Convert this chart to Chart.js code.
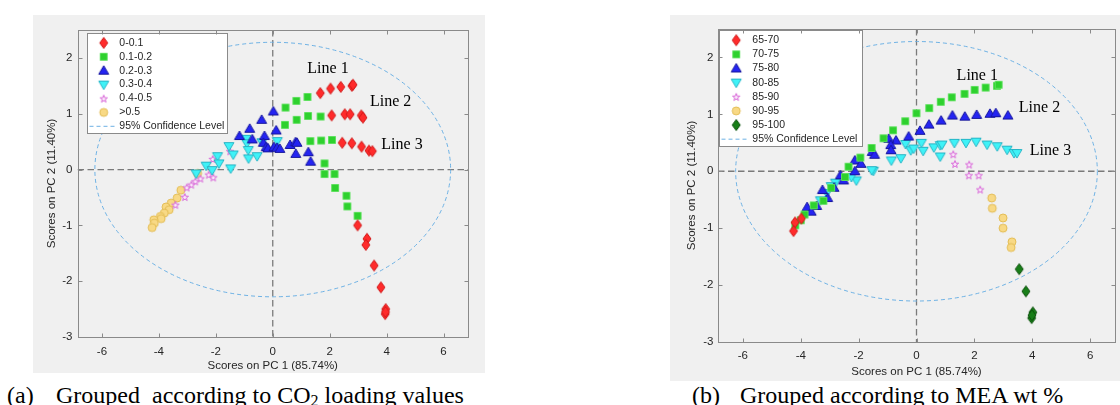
<!DOCTYPE html>
<html>
<head>
<meta charset="utf-8">
<script src="https://cdn.jsdelivr.net/npm/chart.js@4.4.1/dist/chart.umd.min.js"></script>
<style>
  body { margin: 0; width: 1120px; height: 405px; background: #fff; position: relative; overflow: hidden; }
  .panel { position: absolute; background: #f0f0f0; }
  #panelA { left: 33px; top: 15px; width: 452px; height: 358px; }
  #panelB { left: 670px; top: 15px; width: 450px; height: 366px; }
  .cap { position: absolute; top: 383px; font: 24px/24px "Liberation Serif", "Times New Roman", serif; color: #000; white-space: pre; }
  .cap sub { font-size: 16px; vertical-align: -3px; line-height: 0; }
</style>
</head>
<body>
<div class="panel" id="panelA"><canvas id="chartA"></canvas></div>
<div class="panel" id="panelB"><canvas id="chartB"></canvas></div>
<div class="cap" style="left:7px">(a)</div>
<div class="cap" style="left:56px">Grouped  according to CO<sub>2</sub> loading values</div>
<div class="cap" style="left:692px">(b)</div>
<div class="cap" style="left:740px">Grouped according to MEA wt %</div>
<script>
// Axes shared by both PCA score plots
const X_TICKS = [-6, -4, -2, 0, 2, 4, 6]
const Y_TICKS = [-3, -2, -1, 0, 1, 2]
const X_MIN = -6.86, X_MAX = 6.86, Y_MIN = -3, Y_MAX = 2.5
const X_TITLE = "Scores on PC 1 (85.74%)"
const Y_TITLE = "Scores on PC 2 (11.40%)"
const CONF_LABEL = "95% Confidence Level"
const CONF_RX = 6.25, CONF_RY = 2.28
const LINE_NAMES = ["Line 1", "Line 2", "Line 3"]

// (a) grouped by CO2 loading
const loadingLabels = ["0-0.1", "0.1-0.2", "0.2-0.3", "0.3-0.4", "0.4-0.5", ">0.5"]
const load01 = [[1.67, 1.37], [2.03, 1.45], [2.39, 1.48], [2.78, 1.50], [2.82, 1.52],
  [2.07, 0.97], [2.53, 0.99], [2.72, 0.99], [3.11, 0.97], [3.17, 0.93],
  [2.44, 0.48], [2.78, 0.47], [3.12, 0.41], [3.38, 0.34], [3.50, 0.33],
  [2.98, -1.00], [3.31, -1.24], [3.27, -1.35], [3.56, -1.72], [3.80, -2.11], [3.97, -2.50], [3.95, -2.59], [3.96, -2.55]]
const load12 = [[0.45, 1.11], [0.83, 1.23], [1.22, 1.30],
  [0.43, 0.80], [0.84, 0.89], [1.24, 0.96], [1.68, 0.95],
  [1.32, 0.51], [1.70, 0.52], [2.08, 0.53],
  [1.82, 0.11], [1.82, -0.08], [2.17, -0.08], [2.19, -0.33], [2.59, -0.47], [2.62, -0.66], [2.98, -0.83]]
const load23 = [[0.02, 1.04], [-0.39, 0.89], [-0.81, 0.73], [-1.17, 0.60], [-0.29, 0.60], [-0.72, 0.54], [0.12, 0.70],
  [-0.33, 0.48], [-0.23, 0.40], [-0.17, 0.38], [0.04, 0.40], [0.15, 0.39], [0.25, 0.37], [0.61, 0.44],
  [0.80, 0.49], [0.85, 0.48], [0.81, 0.28], [1.25, 0.31], [1.33, 0.14]]
const load34 = [[-0.94, 0.55], [-0.91, 0.47], [-1.54, 0.42], [-0.38, 0.49], [0.16, 0.51], [-0.86, 0.35], [-1.39, 0.27],
  [-1.94, 0.24], [-1.89, 0.11], [-0.85, 0.20], [-0.55, 0.24], [-1.48, 0.02], [-2.34, 0.07], [-2.13, -0.01], [-2.69, -0.07]]
const load45 = [[-1.50, 0.33], [-2.11, 0.19], [-2.25, -0.09], [-2.09, -0.14], [-2.54, -0.16], [-2.72, -0.21],
  [-2.86, -0.27], [-3.02, -0.32], [-3.09, -0.49], [-3.42, -0.63]]
const load5up = [[-2.64, -0.07], [-3.23, -0.37], [-3.36, -0.51], [-3.57, -0.60], [-3.75, -0.67], [-3.64, -0.72],
  [-3.81, -0.78], [-3.95, -0.84], [-3.92, -0.88], [-4.18, -0.90], [-4.16, -0.96], [-4.24, -1.04]]
const loadingNotes = [[1.94, 1.81], [4.14, 1.21], [4.54, 0.44]]

// (b) grouped by MEA wt %
const meaLabels = ["65-70", "70-75", "75-80", "80-85", "85-90", "90-95", "95-100"]
const mea65 = [[-4.20, -0.90], [-3.98, -0.83], [-4.25, -1.05]]
const mea70 = [[0.00, 1.02], [0.44, 1.11], [0.84, 1.22], [1.22, 1.30], [1.66, 1.36], [2.01, 1.43], [2.39, 1.47], [2.78, 1.50], [2.84, 1.52],
  [-0.39, 0.88], [-0.81, 0.72], [-1.14, 0.58], [-1.55, 0.41], [-1.94, 0.24], [-2.35, 0.08], [-2.47, -0.10],
  [-2.95, -0.29], [-3.22, -0.52], [-3.55, -0.60], [-3.87, -0.76], [-4.00, -0.86], [-4.19, -0.95]]
const mea75 = [[0.12, 0.71], [0.43, 0.82], [0.85, 0.89], [1.24, 0.98], [1.67, 0.96], [2.08, 0.99], [2.54, 1.01], [2.74, 1.02], [3.16, 0.98],
  [-0.27, 0.61], [-0.71, 0.54], [-0.96, 0.57], [-0.89, 0.46], [-0.88, 0.37], [-1.53, 0.34], [-1.45, 0.29],
  [-2.13, 0.19], [-1.92, 0.13], [-2.13, 0.00], [-2.63, -0.07], [-2.52, -0.16], [-2.85, -0.29], [-3.25, -0.33],
  [-3.07, -0.47], [-3.45, -0.61], [-3.78, -0.63], [-3.64, -0.71]]
const mea80 = [[-0.38, 0.48], [0.17, 0.50], [0.60, 0.42], [0.82, 0.46], [0.88, 0.47], [1.31, 0.50], [1.71, 0.50], [2.06, 0.52],
  [2.44, 0.47], [2.79, 0.44], [3.13, 0.38], [3.37, 0.32], [3.47, 0.32],
  [-0.20, 0.37], [-0.10, 0.40], [0.23, 0.36], [0.82, 0.26], [-0.54, 0.23], [-0.87, 0.19], [-1.49, 0.01], [-1.55, 0.02],
  [-2.08, -0.16], [-2.25, -0.10], [-2.80, -0.20], [-2.95, -0.26], [-3.10, -0.38], [-3.32, -0.51]]
const mea85 = [[1.27, 0.30], [1.33, 0.13], [1.82, 0.12], [1.81, -0.07], [2.15, -0.07], [2.20, -0.32]]
const mea90 = [[2.60, -0.47], [2.62, -0.65], [2.99, -0.82], [2.99, -1.00], [3.30, -1.24], [3.27, -1.34]]
const mea95 = [[3.55, -1.72], [3.78, -2.11], [4.02, -2.48], [3.98, -2.58], [3.99, -2.53]]
const meaNotes = [[2.10, 1.68], [4.25, 1.11], [4.63, 0.36]]

const AXIS_COLOR = "#8a8a8a"
const TEXT_COLOR = "#262626"
const CONF_COLOR = "#6db1e4"
const SANS = '"Liberation Sans", Arial, sans-serif'
const SERIF = '"Liberation Serif", "Times New Roman", serif'

// MATLAB-like marker glyphs, pre-rendered so Chart.js can use them as pointStyle
function marker(kind, fill, stroke) {
  const c = document.createElement("canvas")
  c.width = 14; c.height = 14
  const g = c.getContext("2d")
  const m = 7
  g.beginPath()
  if (kind === "diamond") {
    g.moveTo(m, m - 5.5); g.lineTo(m + 4, m); g.lineTo(m, m + 5.5); g.lineTo(m - 4, m)
  } else if (kind === "square") {
    g.rect(m - 3.5, m - 3.5, 7, 7)
  } else if (kind === "up") {
    g.moveTo(m, m - 5); g.lineTo(m + 5, m + 3.5); g.lineTo(m - 5, m + 3.5)
  } else if (kind === "down") {
    g.moveTo(m, m + 5); g.lineTo(m + 5, m - 3.5); g.lineTo(m - 5, m - 3.5)
  } else if (kind === "circle") {
    g.arc(m, m, 4, 0, Math.PI * 2)
  } else if (kind === "star") {
    for (let i = 0; i < 10; i++) {
      const r = i % 2 ? 1.6 : 3.9
      const t = -Math.PI / 2 + i * Math.PI / 5
      g.lineTo(m + r * Math.cos(t), m + 0.5 + r * Math.sin(t))
    }
  }
  g.closePath()
  g.fillStyle = fill; g.fill()
  g.lineWidth = 1; g.strokeStyle = stroke; g.stroke()
  return c
}

const MK = {
  red: marker("diamond", "#ff2b2b", "#d01818"),
  green: marker("square", "#2ed12e", "#5fe05f"),
  blue: marker("up", "#2424f2", "#16169e"),
  cyan: marker("down", "#3ff2f7", "#27b5c6"),
  star: marker("star", "#fbe8fb", "#d86ad8"),
  yellow: marker("circle", "#f8d985", "#e3bd55"),
  dkgreen: marker("diamond", "#187e18", "#0b500b")
}

function series(label, pts, img) {
  return { label: label, data: pts.map(([x, y]) => ({ x: x, y: y })), pointStyle: img, showLine: false }
}

const pcaDecor = {
  id: "pcaDecor",
  beforeDatasetsDraw(chart) {
    const { ctx, chartArea: a, scales: { x, y } } = chart
    const x0 = x.getPixelForValue(0), y0 = y.getPixelForValue(0)
    ctx.save()
    ctx.beginPath(); ctx.rect(a.left, a.top, a.right - a.left, a.bottom - a.top); ctx.clip()
    ctx.lineWidth = 1.3; ctx.strokeStyle = "#7a7a7a"; ctx.setLineDash([6.5, 3.5])
    ctx.beginPath()
    ctx.moveTo(x0, a.top); ctx.lineTo(x0, a.bottom)
    ctx.moveTo(a.left, y0); ctx.lineTo(a.right, y0)
    ctx.stroke()
    ctx.lineWidth = 1; ctx.strokeStyle = CONF_COLOR; ctx.setLineDash([4, 3])
    ctx.beginPath()
    ctx.ellipse(x0, y0, x.getPixelForValue(CONF_RX) - x0, y0 - y.getPixelForValue(CONF_RY), 0, 0, Math.PI * 2)
    ctx.stroke()
    ctx.restore()
  },
  afterDatasetsDraw(chart, args, opts) {
    const { ctx, chartArea: a, scales: { x, y } } = chart
    ctx.save()
    ctx.fillStyle = "#000"; ctx.font = "16px " + SERIF
    ctx.textAlign = "center"; ctx.textBaseline = "middle"
    opts.notes.forEach(([vx, vy], i) => ctx.fillText(LINE_NAMES[i], x.getPixelForValue(vx), y.getPixelForValue(vy)))

    // legend box in the upper-left corner, like MATLAB's 'northwest'
    const lg = opts.legend
    const L = Math.round(a.left + lg.dx) + 0.5, T = Math.round(a.top + lg.dy) + 0.5
    ctx.fillStyle = "#fff"; ctx.fillRect(L, T, lg.w, lg.h)
    ctx.strokeStyle = AXIS_COLOR; ctx.lineWidth = 1; ctx.strokeRect(L, T, lg.w, lg.h)
    ctx.font = "10.5px " + SANS; ctx.textAlign = "left"; ctx.fillStyle = TEXT_COLOR
    const ds = chart.data.datasets
    ds.forEach((d, i) => {
      const cy = T + lg.first + i * lg.row
      const img = d.pointStyle
      ctx.drawImage(img, L + lg.mark - img.width / 2, cy - img.height / 2)
      ctx.fillText(d.label, L + lg.text, cy)
    })
    const cy = T + lg.first + ds.length * lg.row
    ctx.strokeStyle = CONF_COLOR; ctx.setLineDash([4, 3])
    ctx.beginPath(); ctx.moveTo(L + 2, cy); ctx.lineTo(L + 27, cy); ctx.stroke()
    ctx.fillText(CONF_LABEL, L + lg.text, cy)
    ctx.restore()
  },
  afterDraw(chart) {
    const { ctx, chartArea: a, scales: { x, y } } = chart
    const l = Math.round(a.left) + 0.5, r = Math.round(a.right) + 0.5
    const t = Math.round(a.top) + 0.5, b = Math.round(a.bottom) + 0.5
    ctx.save()
    ctx.strokeStyle = AXIS_COLOR; ctx.lineWidth = 1
    ctx.strokeRect(l, t, r - l, b - t)
    ctx.beginPath()
    X_TICKS.forEach((v) => {
      const px = Math.round(x.getPixelForValue(v)) + 0.5
      ctx.moveTo(px, b); ctx.lineTo(px, b - 4)
      ctx.moveTo(px, t); ctx.lineTo(px, t + 4)
    })
    Y_TICKS.forEach((v) => {
      const py = Math.round(y.getPixelForValue(v)) + 0.5
      ctx.moveTo(l, py); ctx.lineTo(l + 4, py)
      ctx.moveTo(r, py); ctx.lineTo(r - 4, py)
    })
    ctx.stroke()
    ctx.restore()
  }
}

function scoreChart(canvasId, datasets, notes, legend, box) {
  const tickFont = { family: SANS, size: 11.5 }
  return new Chart(document.getElementById(canvasId), {
    type: "scatter",
    plugins: [pcaDecor],
    data: { datasets: datasets },
    options: {
      animation: false,
      responsive: true,
      maintainAspectRatio: false,
      events: [],
      layout: { padding: { left: 0, top: box.top, right: box.right, bottom: 0 } },
      plugins: {
        legend: { display: false },
        tooltip: { enabled: false },
        pcaDecor: { notes: notes, legend: legend }
      },
      scales: {
        x: {
          type: "linear", min: X_MIN, max: X_MAX,
          afterBuildTicks: (axis) => { axis.ticks = X_TICKS.map((v) => ({ value: v })) },
          afterFit: (s) => { s.height = box.xh },
          grid: { display: false, drawTicks: false },
          border: { display: false },
          ticks: { padding: box.xpad, color: TEXT_COLOR, font: tickFont, callback: (v) => String(v) },
          title: { display: true, text: X_TITLE, color: TEXT_COLOR, font: tickFont, padding: { top: 0, bottom: box.xtb } }
        },
        y: {
          type: "linear", min: Y_MIN, max: Y_MAX,
          afterBuildTicks: (axis) => { axis.ticks = Y_TICKS.map((v) => ({ value: v })) },
          afterFit: (s) => { s.width = box.yw },
          grid: { display: false, drawTicks: false },
          border: { display: false },
          ticks: { padding: box.ypad, color: TEXT_COLOR, font: tickFont, callback: (v) => String(v) },
          title: { display: true, text: Y_TITLE, color: TEXT_COLOR, font: tickFont, padding: { top: box.ytt, bottom: 0 } }
        }
      }
    }
  })
}

scoreChart("chartA", [
  series(loadingLabels[0], load01, MK.red),
  series(loadingLabels[1], load12, MK.green),
  series(loadingLabels[2], load23, MK.blue),
  series(loadingLabels[3], load34, MK.cyan),
  series(loadingLabels[4], load45, MK.star),
  series(loadingLabels[5], load5up, MK.yellow)
], loadingNotes,
  { dx: 9, dy: 3, w: 140, h: 100, first: 9.4, row: 13.9, mark: 16.2, text: 31.8 },
  { top: 15, right: 17, xh: 36, yw: 44.5, xpad: 7.5, ypad: 5, xtb: 0, ytt: 12 })

scoreChart("chartB", [
  series(meaLabels[0], mea65, MK.red),
  series(meaLabels[1], mea70, MK.green),
  series(meaLabels[2], mea75, MK.blue),
  series(meaLabels[3], mea80, MK.cyan),
  series(meaLabels[4], mea85, MK.star),
  series(meaLabels[5], mea90, MK.yellow),
  series(meaLabels[6], mea95, MK.dkgreen)
], meaNotes,
  { dx: 1, dy: 1, w: 143, h: 116, first: 9.7, row: 14.14, mark: 16.7, text: 32.8 },
  { top: 14, right: 3, xh: 39, yw: 48, xpad: 7, ypad: 4.5, xtb: 2, ytt: 15 })
</script>
</body>
</html>
